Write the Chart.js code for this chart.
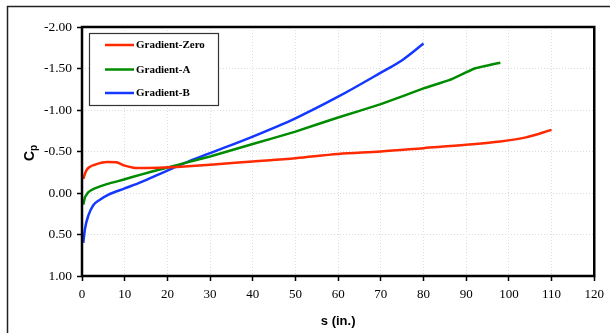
<!DOCTYPE html>
<html>
<head>
<meta charset="utf-8">
<script src="https://cdn.jsdelivr.net/npm/chart.js@4/dist/chart.umd.min.js"></script>
<style>
  body { margin: 0; background: #fff; }
  canvas { display: block; }
</style>
</head>
<body>
<canvas id="myChart" width="610" height="333"></canvas>
<script>
// values
const zeroS = [0.3, 1, 2, 3, 4.5, 6, 8, 10, 13, 18, 24, 30, 40, 50, 60, 70, 80, 90, 98, 104, 110];
const zeroCp = [-0.17, -0.27, -0.32, -0.34, -0.365, -0.375, -0.37, -0.33, -0.30, -0.305, -0.32, -0.34, -0.38, -0.42, -0.47, -0.50, -0.54, -0.58, -0.62, -0.67, -0.76];

const gradAS = [0.3, 0.7, 1.5, 3, 6, 10, 14, 18, 24, 30, 40, 50, 60, 70, 80, 86, 92, 98];
const gradACp = [0.14, 0.05, -0.01, -0.055, -0.11, -0.165, -0.225, -0.28, -0.36, -0.44, -0.59, -0.74, -0.91, -1.07, -1.26, -1.36, -1.50, -1.57];

const gradBS = [0.3, 0.7, 1.5, 2.6, 4.2, 6, 10, 14, 18, 24, 30, 40, 50, 60, 70, 75, 80];
const gradBCp = [0.60, 0.43, 0.27, 0.15, 0.08, 0.025, -0.055, -0.135, -0.225, -0.36, -0.48, -0.68, -0.90, -1.16, -1.45, -1.60, -1.80];

const seriesNames = ["Gradient-Zero", "Gradient-A", "Gradient-B"];
const seriesColors = ["#ff2a00", "#008c00", "#1438ff"];

function toPoints(xs, ys) {
  return xs.map(function(x, i) { return {x: x, y: ys[i]}; });
}

const serif = "'Liberation Serif', 'Times New Roman', serif";

// outer frame, plot frame, axis titles and the legend box
const decorations = {
  id: "decorations",
  beforeDraw(chart) {
    const ctx = chart.ctx;
    ctx.save();
    ctx.fillStyle = "#fff";
    ctx.fillRect(0, 0, chart.width, chart.height);
    ctx.strokeStyle = "#222";
    ctx.lineWidth = 1.5;
    ctx.beginPath();
    ctx.moveTo(7.5, 333);
    ctx.lineTo(7.5, 6.5);
    ctx.lineTo(610, 6.5);
    ctx.stroke();
    ctx.restore();
  },
  afterDraw(chart) {
    const ctx = chart.ctx;
    const a = chart.chartArea;
    ctx.save();
    ctx.strokeStyle = "#000";
    ctx.lineWidth = 2.5;
    ctx.strokeRect(a.left, a.top, a.right - a.left, a.bottom - a.top);

    // axis titles
    ctx.fillStyle = "#000";
    ctx.font = "bold 13px 'Liberation Sans', Arial, sans-serif";
    ctx.textAlign = "center";
    ctx.textBaseline = "middle";
    ctx.fillText("s (in.)", (a.left + a.right) / 2, 321);

    ctx.translate(30, 153);
    ctx.rotate(-Math.PI / 2);
    ctx.textAlign = "left";
    ctx.font = "bold 14px 'Liberation Sans', Arial, sans-serif";
    const cw = ctx.measureText("C").width;
    ctx.fillText("C", -8, 0);
    ctx.font = "bold 10px 'Liberation Sans', Arial, sans-serif";
    ctx.fillText("p", -8 + cw, 4);
    ctx.restore();

    // legend
    ctx.save();
    ctx.fillStyle = "#fff";
    ctx.fillRect(89, 33, 130, 73);
    ctx.strokeStyle = "#333";
    ctx.lineWidth = 1.2;
    ctx.strokeRect(89.5, 33.5, 129, 72);
    const rows = [45, 69.5, 93];
    chart.data.datasets.forEach(function(ds, i) {
      ctx.strokeStyle = ds.borderColor;
      ctx.lineWidth = 2.5;
      ctx.beginPath();
      ctx.moveTo(105, rows[i]);
      ctx.lineTo(134, rows[i]);
      ctx.stroke();
      ctx.fillStyle = "#000";
      ctx.font = "bold 11px " + serif;
      ctx.textAlign = "left";
      ctx.textBaseline = "middle";
      ctx.fillText(ds.label, 136, rows[i] + 0.5);
    });
    ctx.restore();
  }
};

const resultChart = new Chart("myChart", {
  type: "line",
  data: {
    datasets: [
      {label: seriesNames[0], data: toPoints(zeroS, zeroCp), borderColor: seriesColors[0]},
      {label: seriesNames[1], data: toPoints(gradAS, gradACp), borderColor: seriesColors[1],
        cubicInterpolationMode: "default", tension: 0.1},
      {label: seriesNames[2], data: toPoints(gradBS, gradBCp), borderColor: seriesColors[2]}
    ]
  },
  options: {
    responsive: false,
    animation: false,
    layout: {padding: {top: 27, right: 13, left: 0, bottom: 0}},
    elements: {
      point: {radius: 0},
      line: {borderWidth: 2.5, tension: 0.3, cubicInterpolationMode: "monotone", fill: false}
    },
    plugins: {legend: {display: false}, tooltip: {enabled: false}},
    scales: {
      x: {
        type: "linear",
        min: 0,
        max: 120,
        afterFit: function(scale) { scale.height = 57; },
        ticks: {stepSize: 10, color: "#000", padding: 6, font: {family: serif, size: 13}},
        grid: {color: "#dcdcdc", tickColor: "#000", tickWidth: 1.5, tickLength: 5},
        border: {display: false, dash: [1, 2]}
      },
      y: {
        type: "linear",
        min: -2,
        max: 1,
        reverse: true,
        afterFit: function(scale) { scale.width = 82; },
        ticks: {stepSize: 0.5, color: "#000", padding: 5, font: {family: serif, size: 13.5},
          callback: function(v) { return v.toFixed(2); }},
        grid: {color: "#dcdcdc", tickColor: "#000", tickWidth: 1.5, tickLength: 5},
        border: {display: false, dash: [1, 2]}
      }
    }
  },
  plugins: [decorations]
});
</script>
</body>
</html>
